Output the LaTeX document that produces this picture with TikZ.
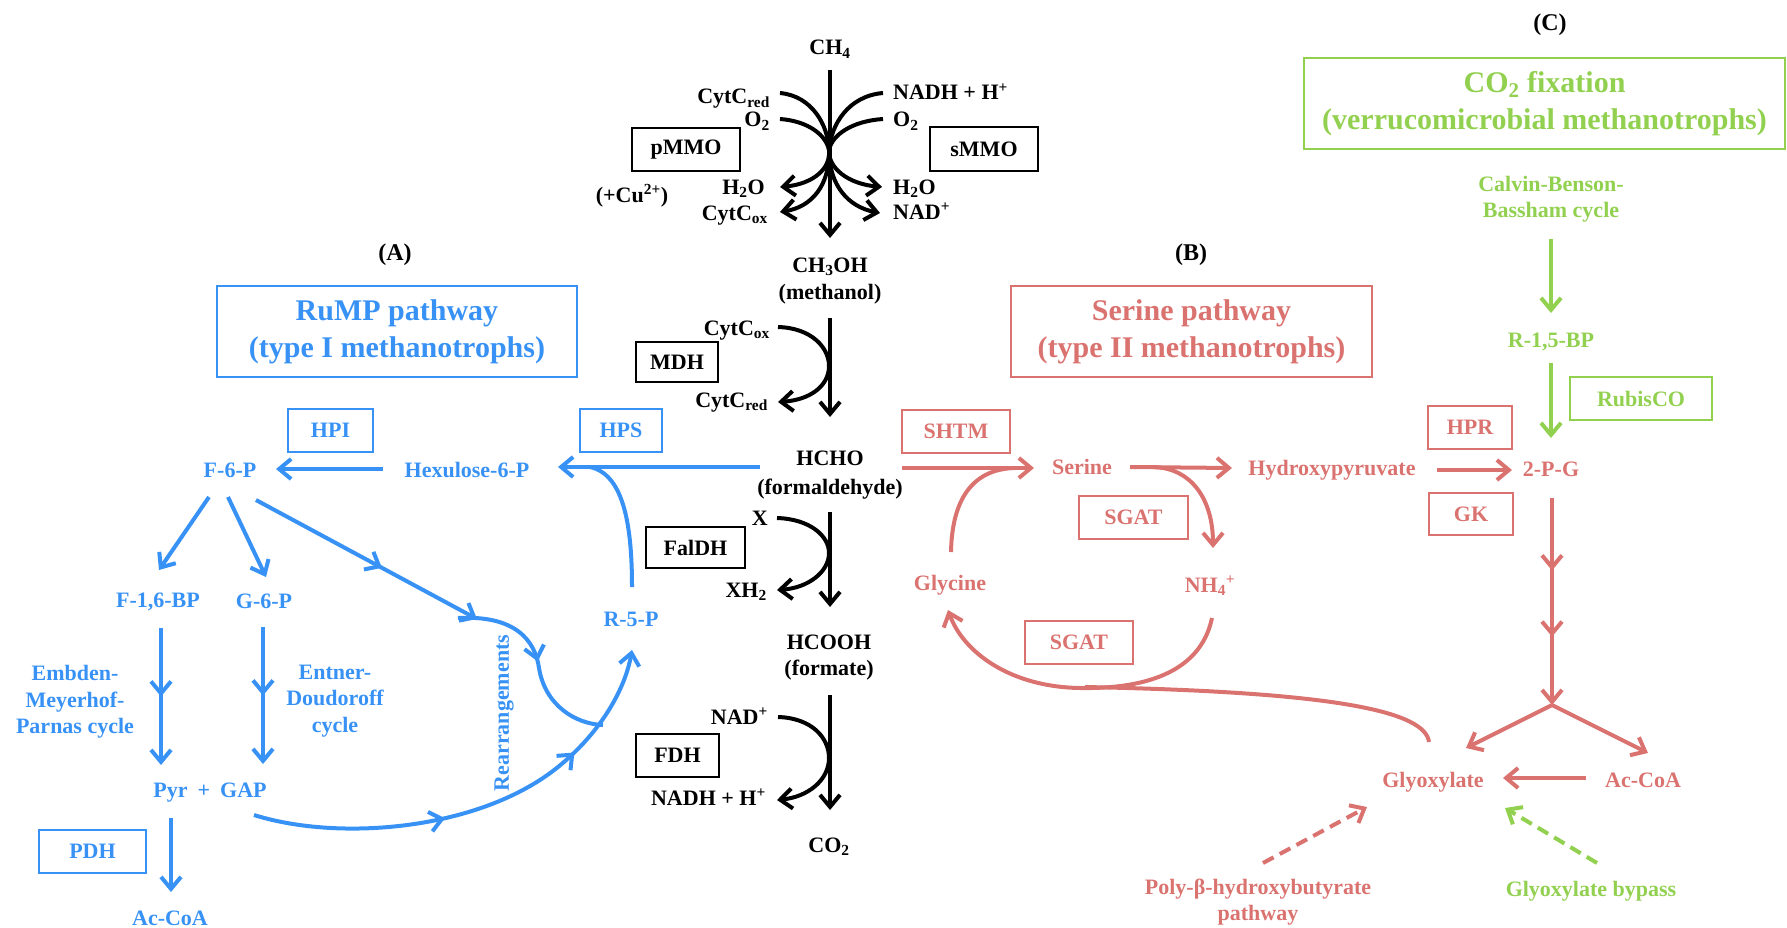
\documentclass[tikz,border=0pt]{standalone}
\usepackage{fontspec}
\setmainfont{Liberation Serif}
\usetikzlibrary{arrows.meta,decorations.markings}
\definecolor{cblue}{RGB}{56,146,245}
\definecolor{cred}{RGB}{218,115,112}
\definecolor{cgreen}{RGB}{146,208,80}
\tikzset{
  >={Straight Barb[length=12pt,width=20pt]},
  lbl/.style={font=\bfseries\fontsize{22}{26.5}\selectfont, inner sep=0pt, align=center},
  ttl/.style={draw, line width=1.7pt, font=\bfseries\fontsize{30}{37}\selectfont, align=center, inner sep=0pt},
  ebox/.style={draw, line width=1.8pt, font=\bfseries\fontsize{22}{26}\selectfont, inner sep=0pt},
  ln/.style={line width=4pt},
  mid/.style={postaction={decorate}, decoration={markings, mark=at position #1 with {\arrow{>}}}},
  midtwo/.style 2 args={postaction={decorate}, decoration={markings, mark=at position #1 with {\arrow{>}}, mark=at position #2 with {\arrow{>}}}},
}
\begin{document}
\begin{tikzpicture}[x=1pt,y=-1pt]
\useasboundingbox (0,0) rectangle (1787,928);

% ---------------- central column (black) ----------------
\node[lbl, anchor=base] (ch4) at (830,55) {CH\textsubscript{4}};
\node[lbl, anchor=base east] (cytred1) at (770,104) {CytC\textsubscript{red}};
\node[lbl, anchor=base east] (o2l) at (770,127) {O\textsubscript{2}};
\node[lbl, anchor=base west] (nadh1) at (893,100) {NADH + H\textsuperscript{+}};
\node[lbl, anchor=base west] (o2r) at (893,127) {O\textsubscript{2}};
\node[lbl, anchor=base] (cu) at (632,202) {(+Cu\textsuperscript{2+})};
\node[lbl, anchor=base east] (h2ol) at (765,194) {H\textsubscript{2}O};
\node[lbl, anchor=base east] (cytox1) at (768,220) {CytC\textsubscript{ox}};
\node[lbl, anchor=base west] (h2or) at (893,194) {H\textsubscript{2}O};
\node[lbl, anchor=base west] (nad1) at (893,219) {NAD\textsuperscript{+}};
\node[ebox, minimum width=108pt, minimum height=43pt] (pmmo) at (686,149.5) {pMMO};
\node[ebox, minimum width=108pt, minimum height=44pt] (smmo) at (984,149) {sMMO};

\node[lbl, anchor=base] (ch3oh) at (830,272) {CH\textsubscript{3}OH};
\node[lbl, anchor=base] (methanol) at (830,299) {(methanol)};
\node[lbl, anchor=base east] (cytox2) at (770,335) {CytC\textsubscript{ox}};
\node[lbl, anchor=base east] (cytred2) at (768,407) {CytC\textsubscript{red}};
\node[ebox, minimum width=82pt, minimum height=40pt] (mdh) at (677,362) {MDH};

\node[lbl, anchor=base] (hcho) at (830,465) {HCHO};
\node[lbl, anchor=base] (formald) at (830,494) {(formaldehyde)};
\node[lbl, anchor=base east] (xx) at (768,525) {X};
\node[lbl, anchor=base east] (xh2) at (767,597) {XH\textsubscript{2}};
\node[ebox, minimum width=99pt, minimum height=41pt] (faldh) at (695.5,547.5) {FalDH};

\node[lbl, anchor=base] (hcooh) at (829,649) {HCOOH};
\node[lbl, anchor=base] (formate) at (829,675) {(formate)};
\node[lbl, anchor=base east] (nad2) at (768,724) {NAD\textsuperscript{+}};
\node[lbl, anchor=base east] (nadh2) at (766,805) {NADH + H\textsuperscript{+}};
\node[ebox, minimum width=83pt, minimum height=43pt] (fdh) at (677.5,755.5) {FDH};
\node[lbl, anchor=base] (co2) at (829,852) {CO\textsubscript{2}};

\coordinate (c0) at (829,150);
\coordinate (a1s) at (830,70);   \coordinate (a1e) at (830,238);
\coordinate (lo1) at (780,93);   \coordinate (lo2) at (780,212);
\coordinate (li1) at (780,119);  \coordinate (li2) at (780,187);
\coordinate (ro1) at (883,93);   \coordinate (ro2) at (880,213);
\coordinate (ri1) at (883,119);  \coordinate (ri2) at (882,187);
\draw[ln,->] (a1s) -- (a1e);
\draw[ln,->] (lo1) .. controls (812,96) and (828,125) .. (c0) .. controls (830,185) and (812,207) .. (lo2);
\draw[ln,->] (li1) .. controls (808,121) and (826,135) .. (c0) .. controls (831,168) and (814,184) .. (li2);
\draw[ln,->] (ro1) .. controls (848,96) and (831,125) .. (c0) .. controls (829,185) and (848,207) .. (ro2);
\draw[ln,->] (ri1) .. controls (852,121) and (832,135) .. (c0) .. controls (828,168) and (848,184) .. (ri2);

\coordinate (a2s) at (830,318); \coordinate (a2e) at (830,417);
\draw[ln,->] (a2s) -- (a2e);
\coordinate (m1) at (778,327); \coordinate (m2) at (829,366); \coordinate (m3) at (778,402);
\draw[ln,->] (m1) .. controls (812,328) and (829,348) .. (m2) .. controls (829,386) and (810,400) .. (m3);

\coordinate (a3s) at (830,512); \coordinate (a3e) at (830,607);
\draw[ln,->] (a3s) -- (a3e);
\coordinate (f1) at (777,518); \coordinate (f2) at (829,553); \coordinate (f3) at (777,590);
\draw[ln,->] (f1) .. controls (810,519) and (829,536) .. (f2) .. controls (829,572) and (808,588) .. (f3);

\coordinate (a4s) at (830,695); \coordinate (a4e) at (830,810);
\draw[ln,->] (a4s) -- (a4e);
\coordinate (d1) at (778,717); \coordinate (d2) at (829,758); \coordinate (d3) at (777,800);
\draw[ln,->] (d1) .. controls (812,718) and (829,738) .. (d2) .. controls (829,780) and (808,797) .. (d3);

% ---------------- (A) RuMP, blue ----------------
\node[lbl, font=\bfseries\fontsize{24}{28}\selectfont, anchor=base] (labA) at (395,260) {(A)};
\node[ttl, cblue, minimum width=360pt, minimum height=91pt] (rump) at (397,331.5) {RuMP pathway\\(type I methanotrophs)};
\begin{scope}[cblue]
\node[ebox, minimum width=85pt, minimum height=43pt] (hpi) at (330.5,430.5) {HPI};
\node[ebox, minimum width=82pt, minimum height=43pt] (hps) at (621,430.5) {HPS};
\node[lbl, anchor=base] (f6p) at (230,477) {F-6-P};
\node[lbl, anchor=base] (hex) at (467,477) {Hexulose-6-P};
\node[lbl, anchor=base] (f16bp) at (158,607) {F-1,6-BP};
\node[lbl, anchor=base] (g6p) at (264,608) {G-6-P};
\node[lbl, anchor=base] (r5p) at (631,626) {R-5-P};
\node[lbl] (emp) at (75,702) {Embden-\\Meyerhof-\\Parnas cycle};
\node[lbl] (ed) at (335,701) {Entner-\\Doudoroff\\cycle};
\node[lbl, anchor=base] (pyr) at (210,797) {Pyr\hspace{10pt}+\hspace{10pt}GAP};
\node[ebox, minimum width=107pt, minimum height=43pt] (pdh) at (92.5,851.5) {PDH};
\node[lbl, anchor=base] (accoa1) at (170,925) {Ac-CoA};
\node[lbl, rotate=90] (rearr) at (504,713) {Rearrangements};

\coordinate (bh1) at (760,467); \coordinate (bh2) at (558,467);
\draw[ln,->] (bh1) -- (bh2);
\coordinate (br1) at (632,587); \coordinate (br2) at (590,467);
\draw[ln] (br1) .. controls (632,520) and (622,474) .. (br2);
\coordinate (hx1) at (383,469); \coordinate (hx2) at (276,469);
\draw[ln,->] (hx1) -- (hx2);
\coordinate (fa1) at (209,497); \coordinate (fa2) at (159,570);
\draw[ln,->] (fa1) -- (fa2);
\coordinate (fb1) at (228,497); \coordinate (fb2) at (266,577);
\draw[ln,->] (fb1) -- (fb2);
\coordinate (fc1) at (256,500); \coordinate (fc2) at (477,619);
\draw[ln,->,mid=0.57] (fc1) -- (fc2);
\coordinate (rg1) at (458,618); \coordinate (rg2) at (603,725);
\draw[ln,mid=0.5] (rg1) .. controls (515,615) and (535,640) .. (539,668) .. controls (545,705) and (575,724) .. (rg2);
\coordinate (pg1) at (254,815); \coordinate (pg2) at (632,650);
\draw[ln,->,midtwo={0.42}{0.74}] (pg1) .. controls (340,842) and (480,830) .. (558,767) .. controls (600,733) and (625,690) .. (pg2);
\coordinate (v11) at (161,628); \coordinate (v12) at (161,765);
\draw[ln,->,mid=0.5] (v11) -- (v12);
\coordinate (v21) at (263,627); \coordinate (v22) at (263,764);
\draw[ln,->,mid=0.5] (v21) -- (v22);
\coordinate (v31) at (171,818); \coordinate (v32) at (171,892);
\draw[ln,->] (v31) -- (v32);
\end{scope}

% ---------------- (B) Serine, red ----------------
\node[lbl, font=\bfseries\fontsize{24}{28}\selectfont, anchor=base] (labB) at (1191,260) {(B)};
\node[ttl, cred, minimum width=361pt, minimum height=91pt] (serbox) at (1191.5,331.5) {Serine pathway\\(type II methanotrophs)};
\begin{scope}[cred]
\node[ebox, minimum width=108pt, minimum height=43pt] (shtm) at (956,431.5) {SHTM};
\node[ebox, minimum width=109pt, minimum height=43pt] (sgat1) at (1133.5,517.5) {SGAT};
\node[ebox, minimum width=108pt, minimum height=43pt] (sgat2) at (1079,642.5) {SGAT};
\node[ebox, minimum width=84pt, minimum height=43pt] (hpr) at (1470,427.5) {HPR};
\node[ebox, minimum width=84pt, minimum height=42pt] (gk) at (1471,514) {GK};
\node[lbl, anchor=base] (serine) at (1082,474) {Serine};
\node[lbl, anchor=base] (hpyr) at (1332,475) {Hydroxypyruvate};
\node[lbl, anchor=base] (glycine) at (950,590) {Glycine};
\node[lbl, anchor=base] (nh4) at (1210,592) {NH\textsubscript{4}\textsuperscript{+}};
\node[lbl, anchor=base] (p2g) at (1551,476) {2-P-G};
\node[lbl, anchor=base] (glyox) at (1433,787) {Glyoxylate};
\node[lbl, anchor=base] (accoa2) at (1643,787) {Ac-CoA};
\node[lbl] (phb) at (1258,902) {Poly-β-hydroxybutyrate\\pathway};

\coordinate (rh1) at (902,468); \coordinate (rh2) at (1034,468);
\draw[ln,->] (rh1) -- (rh2);
\coordinate (gs1) at (951,552); \coordinate (gs2) at (1015,468);
\draw[ln] (gs1) .. controls (952,500) and (972,469) .. (gs2);
\coordinate (sh1) at (1130,467); \coordinate (sh2) at (1232,468);
\draw[ln,->] (sh1) -- (sh2);
\coordinate (sn1) at (1153,467); \coordinate (sn2) at (1213,548);
\draw[ln,->] (sn1) .. controls (1192,468) and (1213,500) .. (sn2);
\coordinate (ng1) at (1212,618); \coordinate (ngb) at (1080,688); \coordinate (ng2) at (948,610);
\draw[ln,->] (ng1) .. controls (1200,675) and (1140,689) .. (ngb) .. controls (1010,687) and (963,652) .. (ng2);
\coordinate (gl1) at (1429,742); \coordinate (gl2) at (1085,687);
\draw[ln] (gl1) .. controls (1425,712) and (1340,692) .. (gl2);
\coordinate (hp1) at (1437,470); \coordinate (hp2) at (1512,470);
\draw[ln,->] (hp1) -- (hp2);
\coordinate (pc1) at (1552,498); \coordinate (fork) at (1552,705);
\draw[ln,->,midtwo={0.35}{0.67}] (pc1) -- (fork);
\coordinate (fk1) at (1466,748); \coordinate (fk2) at (1648,753);
\draw[ln,->] (fork) -- (fk1);
\draw[ln,->] (fork) -- (fk2);
\coordinate (ag1) at (1586,778); \coordinate (ag2) at (1503,778);
\draw[ln,->] (ag1) -- (ag2);
\coordinate (dr1) at (1263,863); \coordinate (dr2) at (1367,807);
\draw[ln,->,dash pattern=on 12pt off 7pt] (dr1) -- (dr2);
\end{scope}

% ---------------- (C) CO2 fixation, green ----------------
\node[lbl, font=\bfseries\fontsize{24}{28}\selectfont, anchor=base] (labC) at (1550,31) {(C)};
\node[ttl, cgreen, minimum width=481pt, minimum height=91pt] (co2box) at (1544.5,103.5) {CO\textsubscript{2} fixation\\(verrucomicrobial methanotrophs)};
\begin{scope}[cgreen]
\node[lbl] (cbb) at (1551,199) {Calvin-Benson-\\Bassham cycle};
\node[lbl, anchor=base] (r15bp) at (1551,347) {R-1,5-BP};
\node[ebox, minimum width=142pt, minimum height=43pt] (rubisco) at (1641,398.5) {RubisCO};
\node[lbl, anchor=base] (gbyp) at (1591,896) {Glyoxylate bypass};
\coordinate (g11) at (1551,239); \coordinate (g12) at (1551,313);
\draw[ln,->] (g11) -- (g12);
\coordinate (g21) at (1551,363); \coordinate (g22) at (1551,438);
\draw[ln,->] (g21) -- (g22);
\coordinate (dg1) at (1597,863); \coordinate (dg2) at (1505,808);
\draw[ln,->,dash pattern=on 12pt off 7pt] (dg1) -- (dg2);
\end{scope}
\end{tikzpicture}
\end{document}
